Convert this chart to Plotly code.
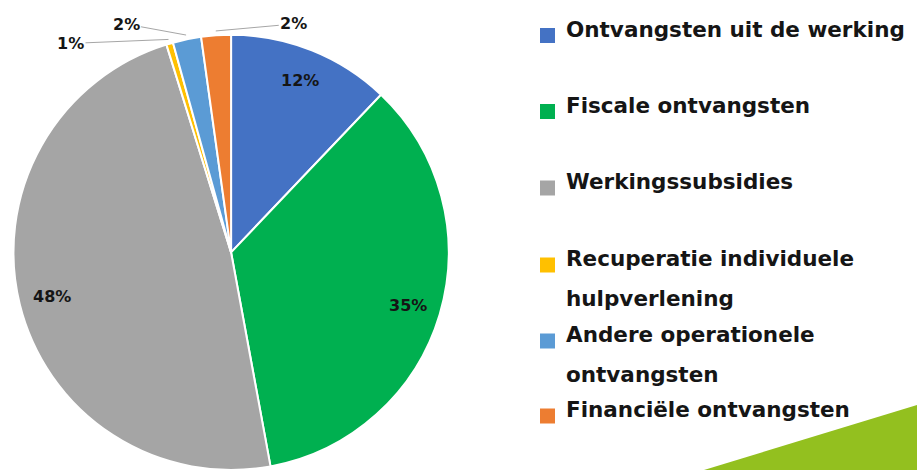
import math
import textwrap
import plotly.graph_objects as go

# ---------------- data ----------------
categories = [
    "Ontvangsten uit de werking",
    "Fiscale ontvangsten",
    "Werkingssubsidies",
    "Recuperatie individuele hulpverlening",
    "Andere operationele ontvangsten",
    "Financiële ontvangsten",
]
shares = [12.1, 35.0, 48.1, 0.5, 2.1, 2.2]
share_labels = ["12%", "35%", "48%", "1%", "2%", "2%"]

# ---------------- styles / layout ----------------
colors = ["#4472C4", "#00B050", "#A5A5A5", "#FFC000", "#5B9BD5", "#ED7D31"]
W, H = 917, 470
FONT = "DejaVu Sans"
TXT = "#151515"
dom_x = [0.002, 0.502]
dom_y = [0.0, 0.926]
inside = [True, True, True, False, False, False]
outside_offsets = {3: (-98, 4), 4: (-60, -11), 5: (78, -7)}  # label offsets in px
legend_row_y = [29, 105, 181.5, 258.5, 334.5, 409.5]  # px from top, first line
legend_line_gap = 40
legend_text_x = 564
legend_swatch_x = 540
swatch = 15

fig = go.Figure(
    go.Pie(
        labels=categories,
        values=shares,
        sort=False,
        direction="clockwise",
        rotation=0,
        marker=dict(colors=colors, line=dict(color="white", width=2)),
        textinfo="none",
        hoverinfo="label+percent",
        domain=dict(x=dom_x, y=dom_y),
        showlegend=False,
    )
)

# pie geometry (pixels) derived from the domain
cx = (dom_x[0] + dom_x[1]) / 2 * W
cy = H - (dom_y[0] + dom_y[1]) / 2 * H
R = min((dom_x[1] - dom_x[0]) * W, (dom_y[1] - dom_y[0]) * H) / 2

total = sum(shares)
annotations = []
cum = 0.0
for i, (v, lab) in enumerate(zip(shares, share_labels)):
    mid = (cum + v / 2) / total * 2 * math.pi
    cum += v
    if inside[i]:
        r = 0.85 * R
        px = cx + r * math.sin(mid)
        py = cy - r * math.cos(mid)
        annotations.append(dict(
            x=px / W, y=(H - py) / H, xref="paper", yref="paper",
            xanchor="center", yanchor="middle",
            text=lab, showarrow=False,
            font=dict(family=FONT, size=16, color=TXT, weight="bold"),
        ))
    else:
        r = 1.02 * R
        px = cx + r * math.sin(mid)
        py = cy - r * math.cos(mid)
        ax, ay = outside_offsets[i]
        annotations.append(dict(
            x=px / W, y=(H - py) / H, xref="paper", yref="paper",
            text=lab, showarrow=True, arrowhead=0, arrowwidth=1,
            arrowcolor="#A6A6A6", ax=ax, ay=ay, standoff=0,
            font=dict(family=FONT, size=16, color=TXT, weight="bold"),
        ))

# legend drawn as text + swatches
shapes = []
for i, cat in enumerate(categories):
    lines = textwrap.wrap(cat, 26)
    y0 = legend_row_y[i]
    for k, line in enumerate(lines):
        yy = y0 + k * legend_line_gap
        annotations.append(dict(
            x=legend_text_x / W, y=(H - yy) / H, xref="paper", yref="paper",
            xanchor="left", yanchor="middle", text=line, showarrow=False,
            font=dict(family=FONT, size=21.5, color=TXT, weight="bold"),
        ))
    sy = y0 + 6.5
    shapes.append(dict(
        type="rect", xref="paper", yref="paper",
        x0=legend_swatch_x / W, x1=(legend_swatch_x + swatch) / W,
        y0=(H - (sy - swatch / 2)) / H, y1=(H - (sy + swatch / 2)) / H,
        fillcolor=colors[i], line=dict(width=0),
    ))

# decorative green corner
shapes.append(dict(
    type="path", xref="paper", yref="paper",
    path=f"M {704 / W},0 L 1,{65 / H} L 1,0 Z",
    fillcolor="#93C01F", line=dict(width=0), layer="below",
))

fig.update_layout(
    width=W, height=H,
    margin=dict(l=0, r=0, t=0, b=0),
    paper_bgcolor="white", plot_bgcolor="white",
    annotations=annotations, shapes=shapes,
    font=dict(family=FONT),
)

fig.write_html(
    "out.html",
    config={"displayModeBar": False},
    post_script="document.body.style.margin='0';document.body.style.overflow='hidden';",
)
